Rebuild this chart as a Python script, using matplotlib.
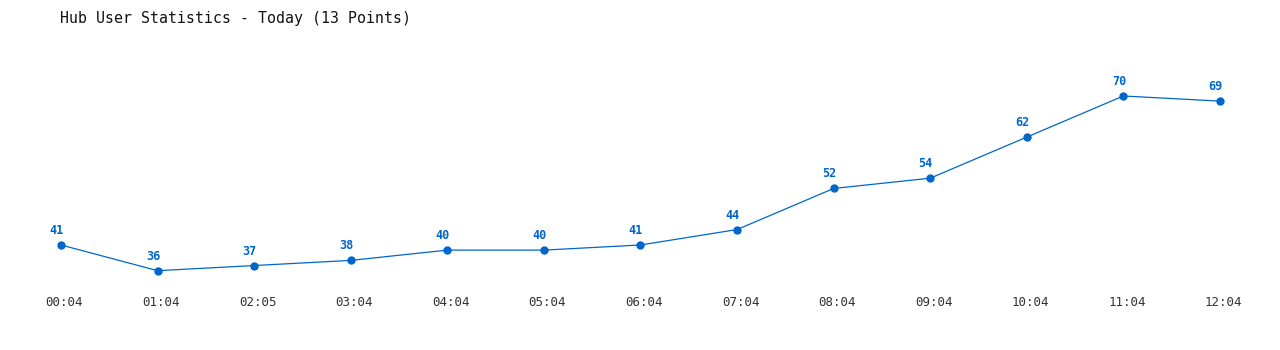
import matplotlib
matplotlib.use("Agg")
import matplotlib.pyplot as plt
import matplotlib.transforms as mtransforms

times = ["00:04", "01:04", "02:05", "03:04", "04:04", "05:04", "06:04",
         "07:04", "08:04", "09:04", "10:04", "11:04", "12:04"]
users = [41, 36, 37, 38, 40, 40, 41, 44, 52, 54, 62, 70, 69]

blue = "#0066cc"
plt.rcParams['font.family'] = ['DejaVu Sans Mono']

fig = plt.figure(figsize=(12.8, 3.5), dpi=100)
ax = fig.add_axes([0, 0, 1, 1])

x = list(range(len(users)))
ax.plot(x, users, color=blue, lw=0.9, marker="o", ms=5, mec=blue, mfc=blue)

# value labels above points, nudged a little left
for xi, v in zip(x, users):
    off = mtransforms.offset_copy(ax.transData, fig=fig, x=-4.5, y=8, units="dots")
    ax.text(xi, v, str(v), transform=off, ha="center", va="bottom",
            fontsize=8.5, fontweight="bold", color=blue)

# time labels along the bottom
xt = ax.get_xaxis_transform()
for xi, t in zip(x, times):
    off = mtransforms.offset_copy(xt, fig=fig, x=3.5, y=0, units="dots")
    ax.text(xi, 1 - 303 / 350, t, transform=off, ha="center", va="center",
            fontsize=9, color="#333333")

ax.set_xlim(-61 / 96.58, (1280 - 61) / 96.58)
ax.set_ylim(20.56, 88.68)
ax.axis("off")

fig.text(60 / 1280, 1 - 18 / 350, "Hub User Statistics - Today (13 Points)",
         fontsize=10.7, color="#111111", va="center", ha="left")

fig.savefig("out.png", dpi=100)
